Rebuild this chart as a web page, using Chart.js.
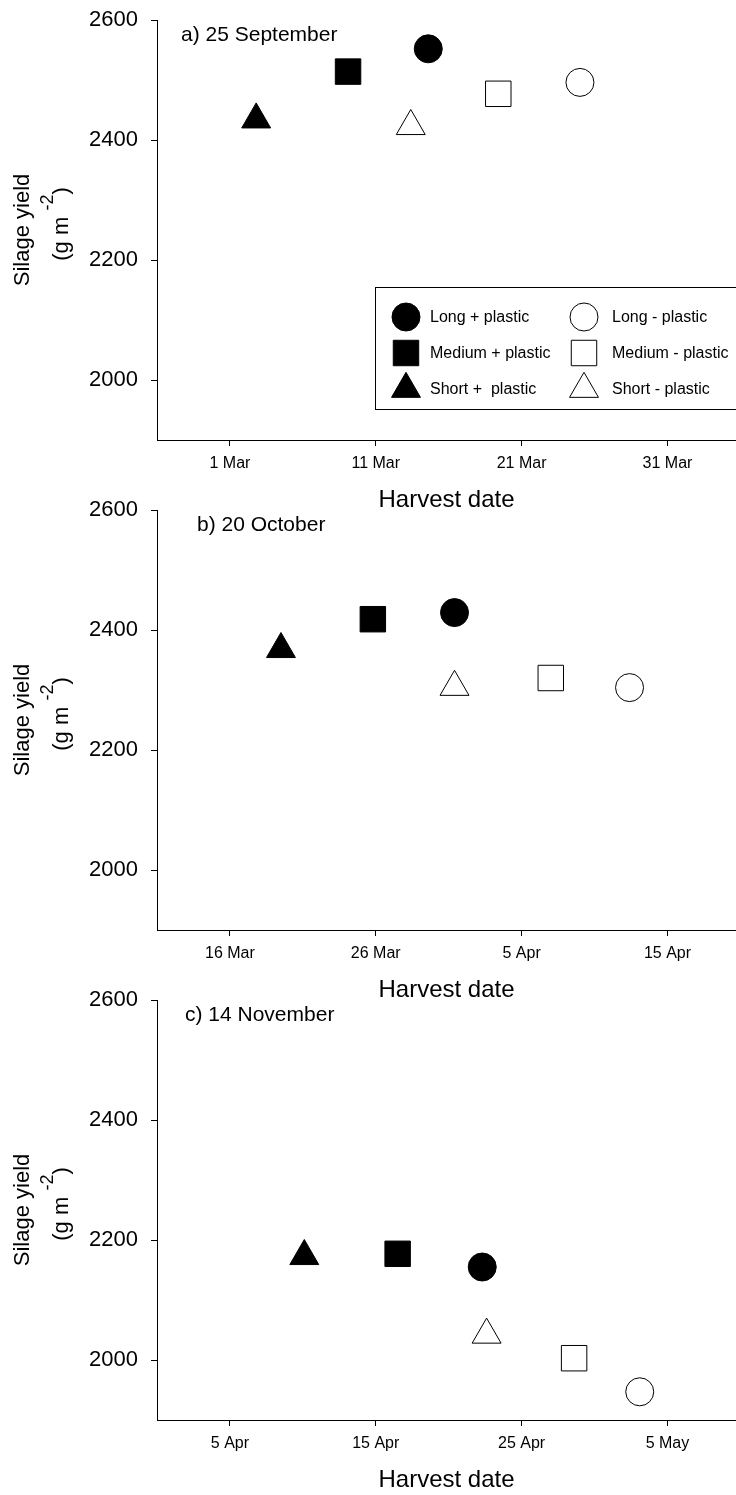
<!DOCTYPE html>
<html lang="en">
<head>
<meta charset="UTF-8">
<title>Silage yield vs harvest date</title>
<script src="https://cdn.jsdelivr.net/npm/chart.js"></script>
<style>
  html, body { margin: 0; padding: 0; background: #fff; }
  #wrap { position: relative; width: 736px; height: 1495px; overflow: hidden; }
  .panel { position: absolute; left: 0; width: 736px; height: 515px; }
</style>
</head>
<body>
<div id="wrap">
  <div class="panel" style="top:0"><canvas id="chart-a" width="736" height="515"></canvas></div>
  <div class="panel" style="top:490px"><canvas id="chart-b" width="736" height="515"></canvas></div>
  <div class="panel" style="top:980px"><canvas id="chart-c" width="736" height="515"></canvas></div>
</div>
<script>
// series order: long+, medium+, short+, long-, medium-, short-
const seriesNames = ['Long + plastic', 'Medium + plastic', 'Short +  plastic', 'Long - plastic', 'Medium - plastic', 'Short - plastic']

// harvest date as day of year, silage yield in g m-2
const dayA = [73.6, 68.1, 61.8, 84.0, 78.4, 72.4]
const yieldA = [2552, 2514, 2434, 2496, 2477, 2423]
const dayB = [90.4, 84.8, 78.5, 102.4, 97.0, 90.4]
const yieldB = [2429, 2418, 2368, 2304, 2320, 2305]
const dayC = [112.3, 106.5, 100.1, 123.1, 118.6, 112.6]
const yieldC = [2155, 2177, 2173, 1947, 2003, 2042]

const yTicks = [2000, 2200, 2400, 2600]
const tickDaysA = [60, 70, 80, 90]
const tickLabelsA = ['1 Mar', '11 Mar', '21 Mar', '31 Mar']
const tickDaysB = [75, 85, 95, 105]
const tickLabelsB = ['16 Mar', '26 Mar', '5 Apr', '15 Apr']
const tickDaysC = [95, 105, 115, 125]
const tickLabelsC = ['5 Apr', '15 Apr', '25 Apr', '5 May']

const shapes = ['circle', 'rect', 'triangle', 'circle', 'rect', 'triangle']
const radii = [14, 18, 16.7, 14, 18, 16.7]
const filled = [true, true, true, false, false, false]

const FONT = '"Liberation Sans", Arial, Helvetica, sans-serif'
Chart.defaults.font.family = FONT
Chart.defaults.color = '#000'

function makeDatasets (days, yields) {
  return seriesNames.map((name, i) => ({
    label: name,
    data: [{ x: days[i], y: yields[i] }],
    pointStyle: shapes[i],
    pointRadius: radii[i],
    pointHoverRadius: radii[i],
    backgroundColor: filled[i] ? '#000' : '#fff',
    borderColor: '#000',
    borderWidth: 1,
    pointBorderWidth: 1
  }))
}

function drawMarker (ctx, i, x, y) {
  ctx.fillStyle = filled[i] ? '#000' : '#fff'
  ctx.strokeStyle = '#000'
  ctx.lineWidth = 1
  Chart.helpers.drawPoint(ctx, { pointStyle: shapes[i], radius: radii[i], borderWidth: 1, rotation: 0 }, x, y)
}

// panel label, y title with superscript, optional legend box
const extras = {
  id: 'extras',
  afterDraw (chart, args, opts) {
    const ctx = chart.ctx
    ctx.save()
    ctx.fillStyle = '#000'
    ctx.textBaseline = 'middle'
    ctx.textAlign = 'left'
    ctx.font = '21px ' + FONT
    ctx.fillText(opts.label, opts.labelX, 35)

    // y title, rotated
    ctx.save()
    ctx.translate(23, 230)
    ctx.rotate(-Math.PI / 2)
    ctx.font = '22px ' + FONT
    ctx.textAlign = 'center'
    ctx.fillText('Silage yield', 0, 0)
    ctx.restore()

    ctx.save()
    ctx.translate(62, 224)
    ctx.rotate(-Math.PI / 2)
    ctx.textAlign = 'left'
    ctx.font = '22px ' + FONT
    const w1 = ctx.measureText('(g m ').width
    const w3 = ctx.measureText(')').width
    ctx.font = '18px ' + FONT
    const w2 = ctx.measureText('-2').width
    let x = -(w1 + w2 + w3) / 2
    ctx.font = '22px ' + FONT
    ctx.fillText('(g m ', x, 0)
    x += w1
    ctx.font = '18px ' + FONT
    ctx.fillText('-2', x, -14)
    x += w2
    ctx.font = '22px ' + FONT
    ctx.fillText(')', x, 0)
    ctx.restore()

    if (opts.legend) {
      ctx.fillStyle = '#fff'
      ctx.fillRect(375.5, 287.5, 400, 122)
      ctx.strokeStyle = '#000'
      ctx.lineWidth = 1
      ctx.strokeRect(375.5, 287.5, 400, 122)
      const rows = [317, 353, 389]
      const colMarker = [406, 584]
      const colText = [430, 612]
      seriesNames.forEach((name, i) => {
        const col = i < 3 ? 0 : 1
        const row = rows[i % 3]
        drawMarker(ctx, i, colMarker[col], row)
        ctx.fillStyle = '#000'
        ctx.font = '16px ' + FONT
        ctx.textAlign = 'left'
        ctx.textBaseline = 'middle'
        ctx.fillText(name, colText[col], row + 1)
      })
    }
    ctx.restore()
  }
}

function makeChart (id, days, yields, xMin, xMax, tickDays, tickLabels, label, labelX, legend) {
  return new Chart(document.getElementById(id), {
    type: 'scatter',
    data: { datasets: makeDatasets(days, yields) },
    plugins: [extras],
    options: {
      responsive: false,
      animation: false,
      events: [],
      layout: { autoPadding: false, padding: { top: 20, left: 0, right: 0, bottom: 0 } },
      plugins: {
        legend: { display: false },
        tooltip: { enabled: false },
        extras: { label: label, labelX: labelX, legend: legend }
      },
      scales: {
        x: {
          type: 'linear',
          min: xMin,
          max: xMax,
          afterBuildTicks: s => { s.ticks = tickDays.map(v => ({ value: v })) },
          afterFit: s => {
            s.height = 75
            s.paddingLeft = 0
            s.paddingRight = 0
          },
          ticks: {
            callback: (v, i) => tickLabels[i],
            font: { size: 16 },
            color: '#000',
            padding: 8,
            maxRotation: 0,
            autoSkip: false
          },
          grid: { drawOnChartArea: false, drawTicks: true, tickLength: 6, color: '#000' },
          border: { display: true, color: '#000', width: 1 },
          title: { display: true, text: 'Harvest date', font: { size: 24 }, color: '#000', padding: 0 }
        },
        y: {
          type: 'linear',
          min: 1900,
          max: 2600,
          afterBuildTicks: s => { s.ticks = yTicks.map(v => ({ value: v })) },
          afterFit: s => {
            s.width = 157
            s.paddingTop = 0
            s.paddingBottom = 0
          },
          ticks: {
            callback: v => String(v),
            font: { size: 22 },
            color: '#000',
            padding: 13
          },
          grid: { drawOnChartArea: false, drawTicks: true, tickLength: 6, color: '#000' },
          border: { display: true, color: '#000', width: 1 }
        }
      }
    }
  })
}

makeChart('chart-a', dayA, yieldA, 55, 94.7, tickDaysA, tickLabelsA, 'a) 25 September', 181, true)
makeChart('chart-b', dayB, yieldB, 70, 109.7, tickDaysB, tickLabelsB, 'b) 20 October', 197, false)
makeChart('chart-c', dayC, yieldC, 90, 129.7, tickDaysC, tickLabelsC, 'c) 14 November', 185, false)
</script>
</body>
</html>
